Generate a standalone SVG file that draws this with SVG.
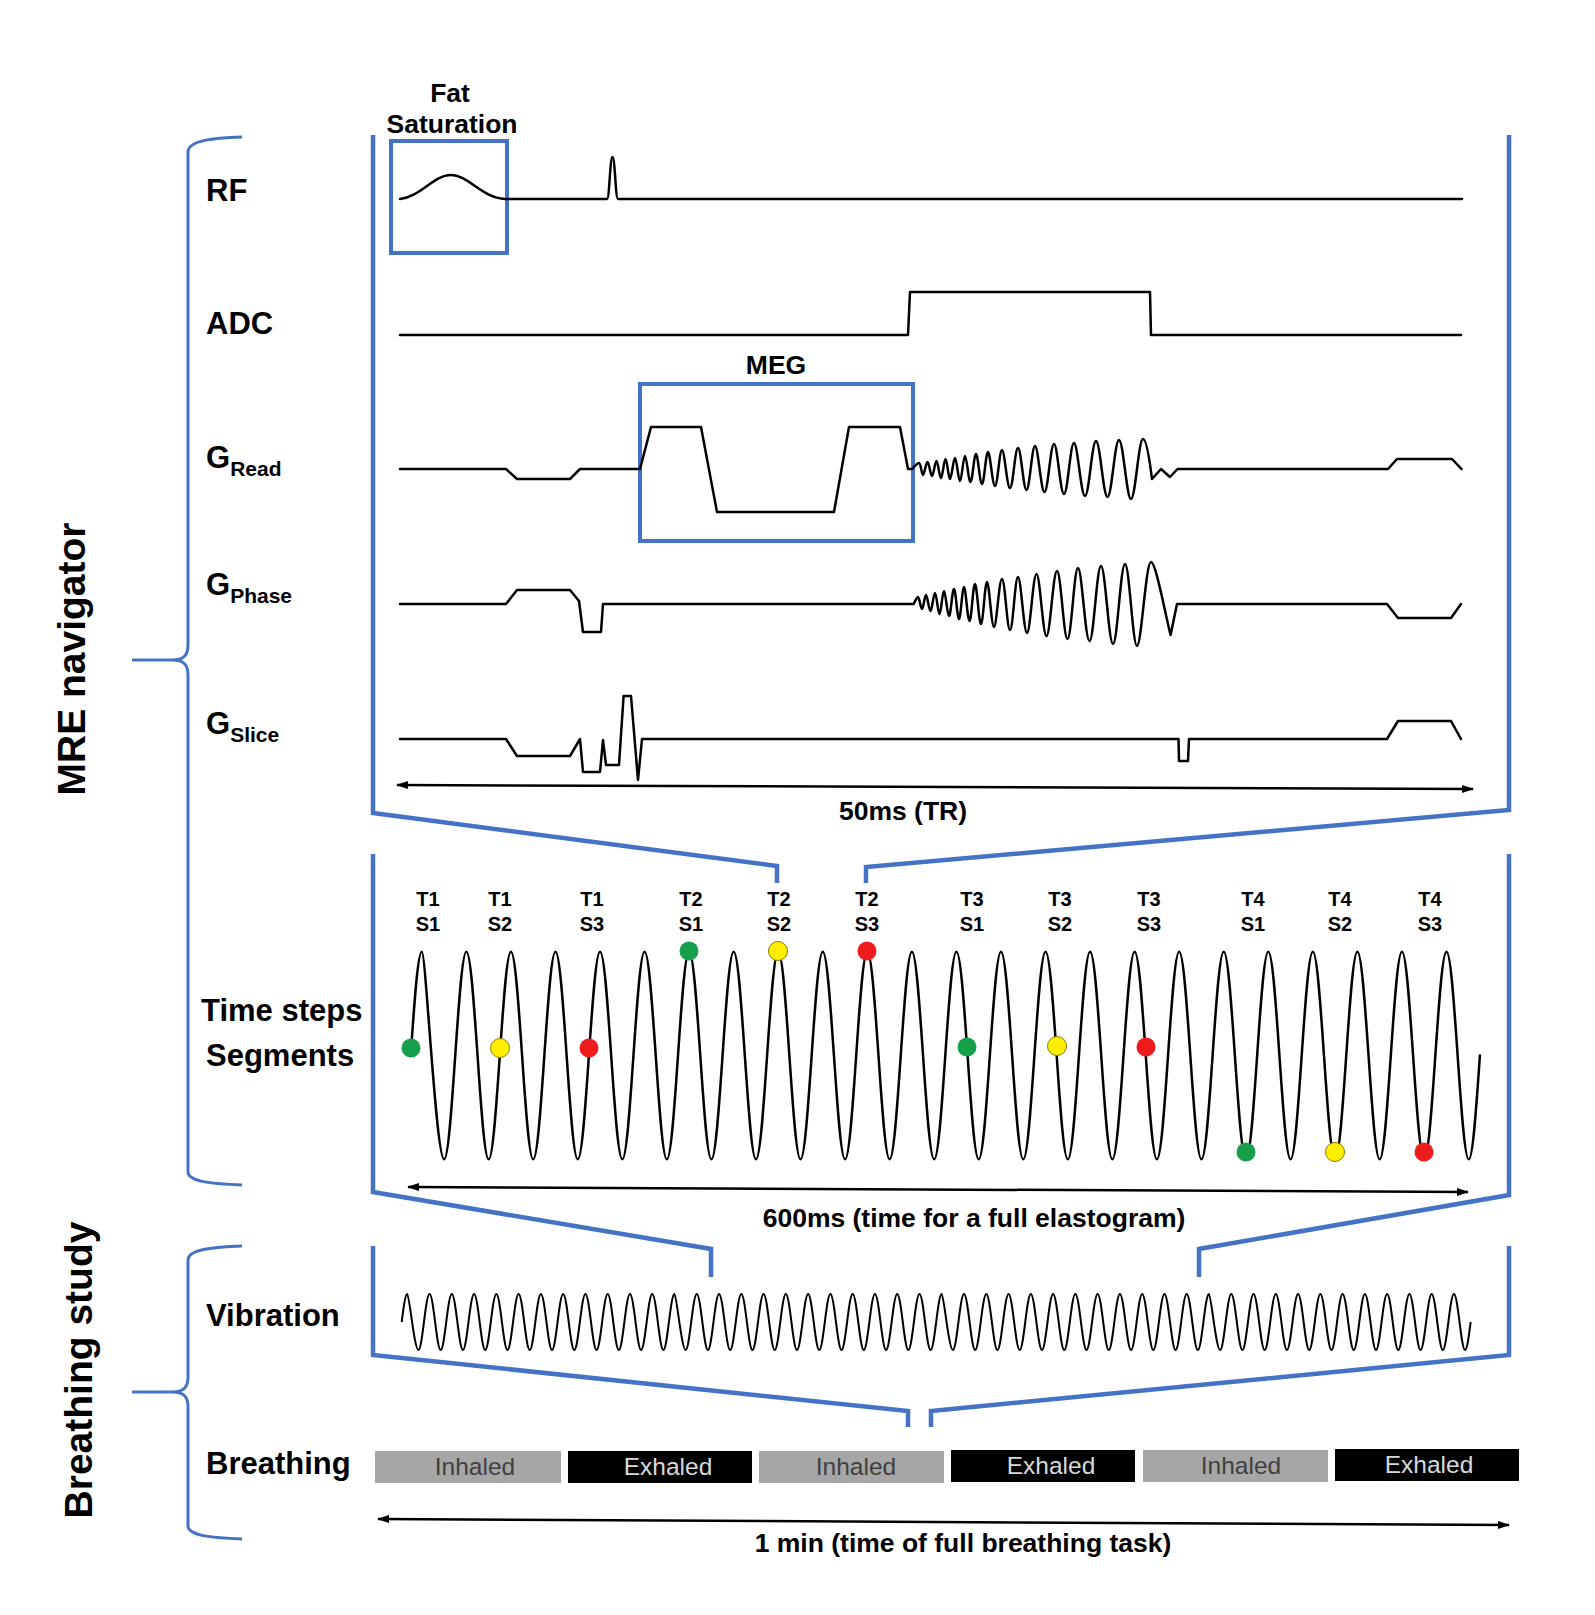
<svg xmlns="http://www.w3.org/2000/svg" width="1595" height="1615" viewBox="0 0 1595 1615">
<style>
text{font-family:"Liberation Sans",Arial,sans-serif;font-weight:bold;fill:#000}
.lab{font-size:31px}
.sub{font-size:21px}
.big{font-size:39px;text-anchor:middle}
.cap{font-size:26.5px;text-anchor:middle}
.ts{font-size:20px;text-anchor:middle}
.bar{font-size:24.5px;font-weight:normal;text-anchor:middle}
.wave{fill:none;stroke:#000;stroke-width:2.5;stroke-linejoin:round;stroke-linecap:round}
.thin{fill:none;stroke:#000;stroke-width:2;stroke-linejoin:round}
.blue{fill:none;stroke:#4472C4;stroke-width:4.5;stroke-linejoin:miter}
.box{fill:none;stroke:#4472C4;stroke-width:4}
.brace{fill:none;stroke:#4472C4;stroke-width:3}
.dim{fill:none;stroke:#000;stroke-width:2.5}
.g{fill:#17a04c}
.y{fill:#ffee00;stroke:#8a7a00;stroke-width:1}
.r{fill:#ee1c1c}
.inh{fill:#404040}
.exh{fill:#d9d9d9}
</style>
<defs>
<marker id="ah" viewBox="0 0 12 8" refX="11" refY="4" markerWidth="12" markerHeight="8" markerUnits="userSpaceOnUse" orient="auto-start-reverse"><path d="M0,0 L12,4 L0,8 z" fill="#000"/></marker>
<path id="vib12" class="thin" d="M0 0 c1.861 -14.703 3.583 -28 5.568 -28 s7.087 56 11.135 56 s7.087 -56 11.135 -56 s7.087 56 11.135 56 s7.087 -56 11.135 -56 s7.087 56 11.135 56 s7.087 -56 11.135 -56 s7.087 56 11.135 56 s7.087 -56 11.135 -56 s7.087 56 11.135 56 s7.087 -56 11.135 -56 s7.087 56 11.135 56 s7.087 -56 11.135 -56 s7.087 56 11.135 56 s7.087 -56 11.135 -56 s7.087 56 11.135 56 s7.087 -56 11.135 -56 s7.087 56 11.135 56 s7.087 -56 11.135 -56 s7.087 56 11.135 56 s7.087 -56 11.135 -56 s7.087 56 11.135 56 s7.087 -56 11.135 -56 s7.087 56 11.135 56 c1.984 0 3.706 -13.297 5.568 -28"/>
</defs>
<rect width="1595" height="1615" fill="#fff"/>

<g id="group-labels">
<text class="big" transform="translate(85,659) rotate(-90)">MRE navigator</text>
<text class="big" transform="translate(92,1370) rotate(-90)">Breathing study</text>
</g>

<g id="braces">
<path class="brace" d="M242 137 C215 138 188 140 188 152 L188 645 C188 655 184 660 172 660 L132 660 M172 660 C184 660 188 665 188 675 L188 1172 C188 1182 215 1184 242 1185"/>
<path class="brace" d="M242 1246 C215 1247 188 1249 188 1260 L188 1377 C188 1387 184 1392 172 1392 L132 1392 M172 1392 C184 1392 188 1397 188 1407 L188 1526 C188 1536 215 1538 242 1539"/>
</g>

<g id="row-labels">
<text id="lbl-rf" class="lab" x="206" y="201">RF</text>
<text id="lbl-adc" class="lab" x="206" y="334">ADC</text>
<text id="lbl-gread" class="lab" x="206" y="468">G<tspan class="sub" dy="8">Read</tspan></text>
<text id="lbl-gphase" class="lab" x="206" y="595">G<tspan class="sub" dy="8">Phase</tspan></text>
<text id="lbl-gslice" class="lab" x="206" y="734">G<tspan class="sub" dy="8">Slice</tspan></text>
<text id="lbl-time" class="lab" x="201" y="1021">Time steps</text>
<text id="lbl-seg" class="lab" x="206" y="1066">Segments</text>
<text id="lbl-vib" class="lab" x="206" y="1326">Vibration</text>
<text id="lbl-breath" class="lab" x="206" y="1474">Breathing</text>
</g>

<g id="fat-saturation">
<text class="cap" x="450" y="102">Fat</text>
<text class="cap" x="452" y="133">Saturation</text>
<rect class="box" x="391" y="141" width="116" height="112"/>
</g>

<g id="meg">
<text class="cap" x="776" y="374">MEG</text>
<rect class="box" x="640" y="384" width="273" height="157"/>
</g>

<g id="rf-wave">
<path class="wave" d="M400 199 C420 197 434 175 451 175 C468 175 482 198 505 199 L607 199 C609.5 199 610 157 612.5 157 C615 157 615.5 199 618 199 L1462 199"/>
</g>

<g id="adc-wave">
<path class="wave" d="M400 335 L908 335 L910 292 L1150 292 L1151 335 L1461 335"/>
</g>

<g id="gread-wave">
<path class="wave" d="M400 469 L506 469 L517 479 L570 479 L580 469 L640 469 L651 427 L701 427 L717 512 L834 512 L849 427 L900 427 L908 469 L912 469 C914 467 917 463 919 463 S921.5 475 923 475 S925.8 462 927.5 462 S930.3 476 932 476 S934.8 461 936.5 461 S939.3 478 941 478 S943.8 459 945.5 459 S948.3 479 950 479 S953.2 458 955 458 S958.2 481 960 481 S963.2 456 965 456 S968.5 482 970.5 482 S974 454 976 454 S979.8 484 982 484 S985.8 452 988 452 S992.4 486 995 486 S999.4 450 1002 450 S1007 488 1010 488 S1015 448 1018 448 S1023.4 490 1026.5 490 S1031.9 446 1035 446 S1041 492 1044.5 492 S1050.5 444 1054 444 S1060.3 494 1064 494 S1070.3 443 1074 443 S1080.9 496 1085 496 S1091.9 441 1096 441 S1103.2 497 1107.5 497 S1114.7 440 1119 440 S1126.6 499 1131 499 S1138.6 439 1143 439 S1151 472 1152 479 L1161 469 L1170 477 L1177.5 469 L1388 469 L1397 459 L1452 459 L1461.5 469"/>
</g>

<g id="gphase-wave">
<path class="wave" d="M400 604 L506 604 L517 590 L570 590 L579 601 L583 632 L601 632 L603 604 L913.6 604 C915 602 916.5 597 918 597 S920.5 609 922 609 S924.5 595 926 595 S928.8 611 930.5 611 S933.3 593 935 593 S937.8 614 939.5 614 S942.3 591 944 591 S947.2 616 949 616 S952.2 589 954 589 S957.2 619 959 619 S962.2 587 964 587 S967.5 621 969.5 621 S973 584 975 584 S978.8 624 981 624 S984.8 582 987 582 S991.4 627 994 627 S999 579 1002 579 S1007 630 1010 630 S1015 577 1018 577 S1023.7 633 1027 633 S1033 574 1036.5 574 S1042.8 636 1046.5 636 S1053.1 571 1057 571 S1063.6 639 1067.5 639 S1074.1 568 1078 568 S1085.2 641 1089.5 641 S1096.7 566 1101 566 S1108.6 644 1113 644 S1120.6 564 1125 564 S1132.6 646 1137 646 S1145.8 562 1151 562 C1156 562 1166 618 1170.6 635 L1177 604 L1387 604 L1398 618 L1451 618 L1461 604"/>
</g>

<g id="gslice-wave">
<path class="wave" d="M400 739 L506 739 L517 756 L570 756 L580 739 L583 772 L600 772 L603 740 L606 765 L619 765 L623.6 696 L631 696 L638 780 L642 739 L1178.5 739 L1179 761 L1188 761 L1189 739 L1387 739 L1398 721 L1451 721 L1461 739"/>
</g>

<g id="timesteps-wave">
<path class="wave" stroke-width="3" d="M410.7 1055.5 c3.723 -54.5 7.168 -103.8 11.138 -103.8 s14.18 207.6 22.275 207.6 s14.18 -207.6 22.275 -207.6 s14.18 207.6 22.275 207.6 s14.18 -207.6 22.275 -207.6 s14.18 207.6 22.275 207.6 s14.18 -207.6 22.275 -207.6 s14.18 207.6 22.275 207.6 s14.18 -207.6 22.275 -207.6 s14.18 207.6 22.275 207.6 s14.18 -207.6 22.275 -207.6 s14.18 207.6 22.275 207.6 s14.18 -207.6 22.275 -207.6 s14.18 207.6 22.275 207.6 s14.18 -207.6 22.275 -207.6 s14.18 207.6 22.275 207.6 s14.18 -207.6 22.275 -207.6 s14.18 207.6 22.275 207.6 s14.18 -207.6 22.275 -207.6 s14.18 207.6 22.275 207.6 s14.18 -207.6 22.275 -207.6 s14.18 207.6 22.275 207.6 s14.18 -207.6 22.275 -207.6 s14.18 207.6 22.275 207.6 s14.18 -207.6 22.275 -207.6 s14.18 207.6 22.275 207.6 s14.18 -207.6 22.275 -207.6 s14.18 207.6 22.275 207.6 s14.18 -207.6 22.275 -207.6 s14.18 207.6 22.275 207.6 s14.18 -207.6 22.275 -207.6 s14.18 207.6 22.275 207.6 s14.18 -207.6 22.275 -207.6 s14.18 207.6 22.275 207.6 s14.18 -207.6 22.275 -207.6 s14.18 207.6 22.275 207.6 s14.18 -207.6 22.275 -207.6 s14.18 207.6 22.275 207.6 s14.18 -207.6 22.275 -207.6 s14.18 207.6 22.275 207.6 s14.18 -207.6 22.275 -207.6 s14.18 207.6 22.275 207.6 s14.18 -207.6 22.275 -207.6 s14.18 207.6 22.275 207.6 s14.18 -207.6 22.275 -207.6 s14.18 207.6 22.275 207.6 s14.18 -207.6 22.275 -207.6 s14.18 207.6 22.275 207.6 c3.969 0 7.414 -49.3 11.138 -103.8"/>
</g>

<g id="timestep-labels">
<text class="ts" x="428" y="906">T1</text><text class="ts" x="428" y="931">S1</text>
<text class="ts" x="500" y="906">T1</text><text class="ts" x="500" y="931">S2</text>
<text class="ts" x="592" y="906">T1</text><text class="ts" x="592" y="931">S3</text>
<text class="ts" x="691" y="906">T2</text><text class="ts" x="691" y="931">S1</text>
<text class="ts" x="779" y="906">T2</text><text class="ts" x="779" y="931">S2</text>
<text class="ts" x="867" y="906">T2</text><text class="ts" x="867" y="931">S3</text>
<text class="ts" x="972" y="906">T3</text><text class="ts" x="972" y="931">S1</text>
<text class="ts" x="1060" y="906">T3</text><text class="ts" x="1060" y="931">S2</text>
<text class="ts" x="1149" y="906">T3</text><text class="ts" x="1149" y="931">S3</text>
<text class="ts" x="1253" y="906">T4</text><text class="ts" x="1253" y="931">S1</text>
<text class="ts" x="1340" y="906">T4</text><text class="ts" x="1340" y="931">S2</text>
<text class="ts" x="1430" y="906">T4</text><text class="ts" x="1430" y="931">S3</text>
</g>

<g id="timestep-dots">
<circle class="g" cx="411" cy="1048" r="9.5"/>
<circle class="y" cx="500" cy="1048" r="9.5"/>
<circle class="r" cx="589" cy="1048" r="9.5"/>
<circle class="g" cx="689" cy="951" r="9.5"/>
<circle class="y" cx="778" cy="951" r="9.5"/>
<circle class="r" cx="867" cy="951" r="9.5"/>
<circle class="g" cx="967" cy="1047" r="9.5"/>
<circle class="y" cx="1057" cy="1046" r="9.5"/>
<circle class="r" cx="1146" cy="1047" r="9.5"/>
<circle class="g" cx="1246" cy="1152" r="9.5"/>
<circle class="y" cx="1335" cy="1152" r="9.5"/>
<circle class="r" cx="1424" cy="1152" r="9.5"/>
</g>

<g id="vibration-wave">
<use href="#vib12" x="401.7" y="1322"/>
<use href="#vib12" x="668.94" y="1322"/>
<use href="#vib12" x="936.18" y="1322"/>
<use href="#vib12" x="1203.42" y="1322"/>
</g>

<g id="breathing-bars">
<rect x="375" y="1451" width="186" height="32" fill="#a6a6a6"/>
<rect x="568" y="1451" width="184" height="32" fill="#000"/>
<rect x="759" y="1451" width="185" height="32" fill="#a6a6a6"/>
<rect x="951" y="1450" width="184" height="32" fill="#000"/>
<rect x="1143" y="1450" width="185" height="32" fill="#a6a6a6"/>
<rect x="1335" y="1449" width="184" height="32" fill="#000"/>
<text class="bar inh" x="475" y="1475">Inhaled</text>
<text class="bar exh" x="668" y="1475">Exhaled</text>
<text class="bar inh" x="856" y="1475">Inhaled</text>
<text class="bar exh" x="1051" y="1474">Exhaled</text>
<text class="bar inh" x="1241" y="1474">Inhaled</text>
<text class="bar exh" x="1429" y="1473">Exhaled</text>
</g>

<g id="connectors">
<path class="blue" d="M373 135 L373 813 L777 866 L777 883"/>
<path class="blue" d="M1509 135 L1509 810 L866 867 L866 883"/>
<path class="blue" d="M373 854 L373 1192 L711 1249 L711 1277"/>
<path class="blue" d="M1509 854 L1509 1195 L1199 1249 L1199 1277"/>
<path class="blue" d="M373 1246 L373 1355 L908 1411 L908 1427"/>
<path class="blue" d="M1509 1246 L1509 1355 L931 1411 L931 1427"/>
<line class="dim" x1="397" y1="785" x2="1473" y2="789" marker-start="url(#ah)" marker-end="url(#ah)"/>
<line class="dim" x1="408" y1="1187" x2="1468" y2="1192" marker-start="url(#ah)" marker-end="url(#ah)"/>
<line class="dim" x1="378" y1="1519" x2="1509" y2="1525" marker-start="url(#ah)" marker-end="url(#ah)"/>
</g>

<g id="dimension-labels">
<text class="cap" x="903" y="820">50ms (TR)</text>
<text class="cap" x="974" y="1227">600ms (time for a full elastogram)</text>
<text class="cap" x="963" y="1552">1 min (time of full breathing task)</text>
</g>
</svg>
